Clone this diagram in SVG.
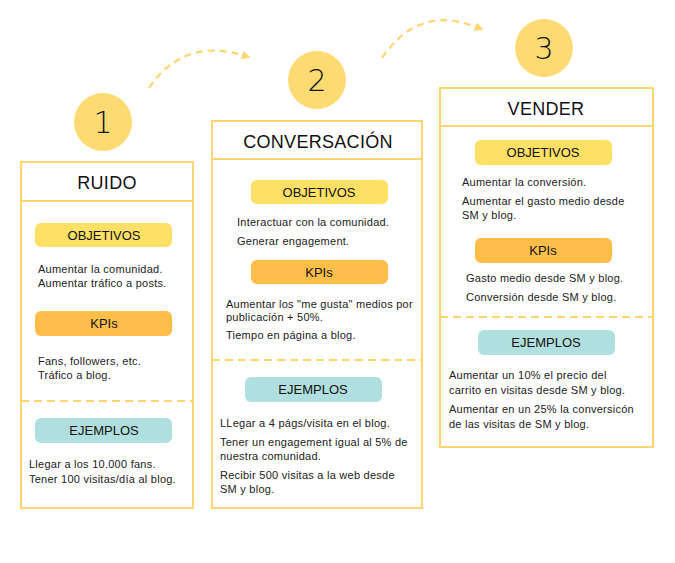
<svg xmlns="http://www.w3.org/2000/svg" width="675" height="563" viewBox="0 0 675 563">
<defs>
<style>
.box{fill:#fff;stroke:#FDD66F;stroke-width:2}
.line{stroke:#FDD66F;stroke-width:2}
.dash{stroke:#FDD66F;stroke-width:2;stroke-dasharray:8 5}
.circ{fill:#FEDB72}
.num{font-family:"DejaVu Sans","Liberation Sans",sans-serif;font-size:30px;fill:#111;text-anchor:middle;font-weight:200}
.title{font-family:"Liberation Sans",sans-serif;font-size:18px;fill:#111;text-anchor:middle;letter-spacing:0.3px}
.obj{fill:#FFE066}
.kpi{fill:#FFBE4A}
.ej{fill:#B0DFDF}
.pl{font-family:"Liberation Sans",sans-serif;font-size:13px;fill:#111;text-anchor:middle}
.t{font-family:"Liberation Sans",sans-serif;font-size:11px;fill:#222;letter-spacing:0.25px}
.arc{fill:none;stroke:#FDD66F;stroke-width:2.2;stroke-dasharray:7 5}
</style>
<marker id="ah" viewBox="0 0 10 10" refX="7" refY="5" markerWidth="4" markerHeight="4" orient="auto">
<path d="M0,0 L10,5 L0,10 z" fill="#FDD66F"/>
</marker>
</defs>

<g id="connectors">
<path class="arc" d="M149,88 Q185,35 248,57" marker-end="url(#ah)"/>
<path class="arc" d="M382,58 Q420,2 481,29" marker-end="url(#ah)"/>
</g>

<g id="node-ruido">
<circle class="circ" cx="103" cy="122" r="29"/>
<text class="num" x="103" y="133">1</text>
<rect class="box" x="21" y="162" width="172" height="346"/>
<line class="line" x1="21" y1="201" x2="193" y2="201"/>
<text class="title" x="107" y="189">RUIDO</text>
<rect class="obj" x="35" y="223" width="137" height="24" rx="6"/>
<text class="pl" x="104" y="240">OBJETIVOS</text>
<text class="t" x="38" y="273">Aumentar la comunidad.</text>
<text class="t" x="38" y="287">Aumentar tráfico a posts.</text>
<rect class="kpi" x="35" y="311" width="137" height="25" rx="6"/>
<text class="pl" x="104" y="328">KPIs</text>
<text class="t" x="38" y="365">Fans, followers, etc.</text>
<text class="t" x="38" y="379">Tráfico a blog.</text>
<line class="dash" x1="21" y1="401" x2="193" y2="401"/>
<rect class="ej" x="35" y="418" width="137" height="25" rx="6"/>
<text class="pl" x="104" y="435">EJEMPLOS</text>
<text class="t" x="29" y="468">Llegar a los 10.000 fans.</text>
<text class="t" x="29" y="483">Tener 100 visitas/día al blog.</text>
</g>

<g id="node-conversacion">
<circle class="circ" cx="317" cy="80" r="29"/>
<text class="num" x="317" y="91">2</text>
<rect class="box" x="212" y="121" width="210" height="387"/>
<line class="line" x1="212" y1="159" x2="422" y2="159"/>
<text class="title" x="318" y="148">CONVERSACIÓN</text>
<rect class="obj" x="251" y="180" width="137" height="24" rx="6"/>
<text class="pl" x="319" y="197">OBJETIVOS</text>
<text class="t" x="237" y="226">Interactuar con la comunidad.</text>
<text class="t" x="237" y="245">Generar engagement.</text>
<rect class="kpi" x="251" y="260" width="137" height="24" rx="6"/>
<text class="pl" x="319" y="277">KPIs</text>
<text class="t" x="226" y="308">Aumentar los "me gusta" medios por</text>
<text class="t" x="226" y="321">publicación + 50%.</text>
<text class="t" x="226" y="339">Tiempo en página a blog.</text>
<line class="dash" x1="212" y1="360" x2="422" y2="360"/>
<rect class="ej" x="245" y="377" width="137" height="25" rx="6"/>
<text class="pl" x="313" y="394">EJEMPLOS</text>
<text class="t" x="220" y="427">LLegar a 4 págs/visita en el blog.</text>
<text class="t" x="220" y="446">Tener un engagement igual al 5% de</text>
<text class="t" x="220" y="460">nuestra comunidad.</text>
<text class="t" x="220" y="479">Recibir 500 visitas a la web desde</text>
<text class="t" x="220" y="493">SM y blog.</text>
</g>

<g id="node-vender">
<circle class="circ" cx="544" cy="48" r="29"/>
<text class="num" x="544" y="59">3</text>
<rect class="box" x="440" y="88" width="213" height="359"/>
<line class="line" x1="440" y1="126" x2="653" y2="126"/>
<text class="title" x="546" y="115">VENDER</text>
<rect class="obj" x="475" y="140" width="137" height="25" rx="6"/>
<text class="pl" x="543" y="157">OBJETIVOS</text>
<text class="t" x="462" y="186">Aumentar la conversión.</text>
<text class="t" x="462" y="205">Aumentar el gasto medio desde</text>
<text class="t" x="462" y="219">SM y blog.</text>
<rect class="kpi" x="475" y="238" width="137" height="25" rx="6"/>
<text class="pl" x="543" y="255">KPIs</text>
<text class="t" x="466" y="282">Gasto medio desde SM y blog.</text>
<text class="t" x="466" y="301">Conversión desde SM y blog.</text>
<line class="dash" x1="440" y1="317" x2="653" y2="317"/>
<rect class="ej" x="478" y="330" width="137" height="25" rx="6"/>
<text class="pl" x="546" y="347">EJEMPLOS</text>
<text class="t" x="449" y="379">Aumentar un 10% el precio del</text>
<text class="t" x="449" y="394">carrito en visitas desde SM y blog.</text>
<text class="t" x="449" y="413">Aumentar en un 25% la conversicón</text>
<text class="t" x="449" y="428">de las visitas de SM y blog.</text>
</g>
</svg>
